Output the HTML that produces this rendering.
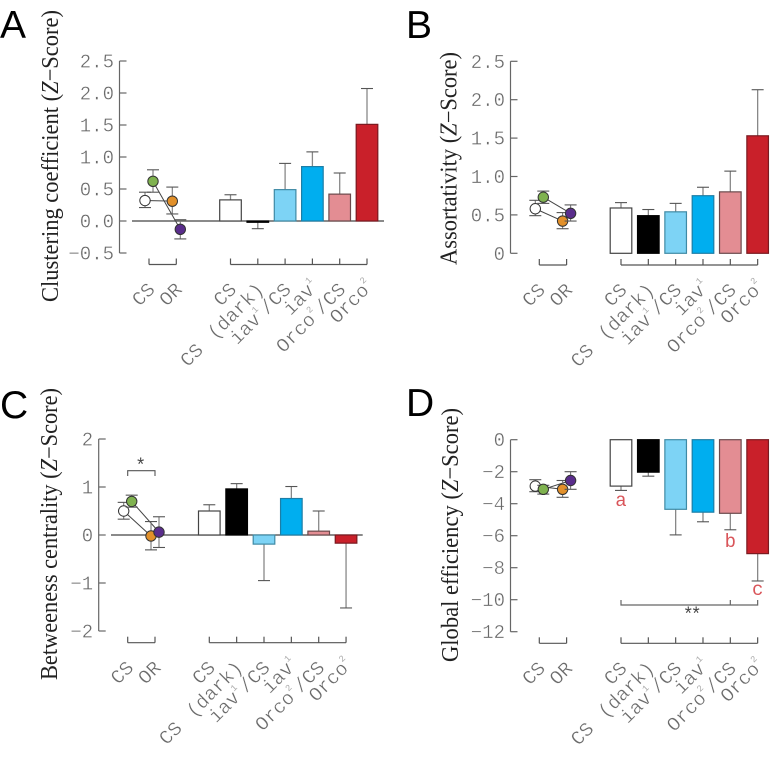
<!DOCTYPE html>
<html><head><meta charset="utf-8"><style>
html,body{margin:0;padding:0;background:#fff;width:773px;height:759px;overflow:hidden}
svg{display:block;filter:blur(0.35px)}
</style></head><body>
<svg id="fig" width="773" height="759" viewBox="0 0 773 759" xmlns="http://www.w3.org/2000/svg"></svg>
<script>
// ---- Data ----
const groupLabels = ["CS", "OR"];
const pointNames = ["cs-white", "cs-green", "or-orange", "or-purple"];
const genotypeNames = ["cs", "cs-dark", "iav-cs", "iav", "orco-cs", "orco"];

const aTicks = ["2.5", "2.0", "1.5", "1.0", "0.5", "0.0", "−0.5"];
const aTickValues = [2.5, 2.0, 1.5, 1.0, 0.5, 0, -0.5];
const aBars = [0.33, -0.02, 0.49, 0.85, 0.42, 1.51];
const aBarTips = [0.41, -0.12, 0.90, 1.08, 0.75, 2.07];
const aPoints = [0.32, 0.62, 0.31, -0.13];
const aPointHigh = [0.45, 0.80, 0.53, 0.02];
const aPointLow = [0.21, 0.45, 0.11, -0.28];

const bTicks = ["2.5", "2.0", "1.5", "1.0", "0.5", "0"];
const bTickValues = [2.5, 2.0, 1.5, 1.0, 0.5, 0];
const bBars = [0.59, 0.49, 0.54, 0.75, 0.80, 1.53];
const bBarTips = [0.66, 0.57, 0.65, 0.86, 1.07, 2.13];
const bPoints = [0.58, 0.73, 0.42, 0.52];
const bPointHigh = [0.69, 0.81, 0.53, 0.63];
const bPointLow = [0.49, 0.65, 0.32, 0.42];

const cTicks = ["2", "1", "0", "−1", "−2"];
const cTickValues = [2, 1, 0, -1, -2];
const cBars = [0.50, 0.96, -0.19, 0.76, 0.08, -0.17];
const cBarTips = [0.63, 1.07, -0.95, 1.01, 0.50, -1.52];
const cPoints = [0.50, 0.70, -0.02, 0.06];
const cPointHigh = [0.68, 0.83, 0.28, 0.38];
const cPointLow = [0.33, 0.58, -0.31, -0.26];

const dTicks = ["0", "−2", "−4", "−6", "−8", "−10", "−12"];
const dTickValues = [0, -2, -4, -6, -8, -10, -12];
const dBars = [-2.90, -2.03, -4.35, -4.53, -4.60, -7.12];
const dBarTips = [-3.17, -2.28, -5.95, -5.13, -5.63, -8.83];
const dPoints = [-2.90, -3.10, -3.10, -2.55];
const dPointHigh = [-2.50, -2.85, -2.55, -2.00];
const dPointLow = [-3.25, -3.40, -3.60, -3.10];

// ---- Styling ----
const barFill = ["#ffffff", "#000000", "#7dd3f5", "#00aeef", "#e38d93", "#c9202a"];
const barStroke = ["#444444", "#000000", "#3f8aa5", "#1d7ea6", "#6b4a4c", "#7a1a20"];
const pointFill = ["#ffffff", "#7fb24f", "#e2902a", "#5a2d8c"];
const NS = "http://www.w3.org/2000/svg";
const fig = document.getElementById("fig");

function mk(tag, attrs, parent) {
  const el = document.createElementNS(NS, tag);
  for (const k in attrs) el.setAttribute(k, attrs[k]);
  (parent || fig).appendChild(el);
  return el;
}
function line(p, x1, y1, x2, y2, stroke, w) {
  return mk("line", {x1: x1, y1: y1, x2: x2, y2: y2, stroke: stroke, "stroke-width": w || 1.2}, p);
}

function drawPanel(cfg) {
  const g = mk("g", {});
  
  
  const sy = v => cfg.yTop + (cfg.vMax - v) * (cfg.yBot - cfg.yTop) / (cfg.vMax - cfg.vMin);
  const bx = i => cfg.barStart + i * cfg.barStep;
  const gx = i => cfg.groupStart + i * cfg.groupStep;
  const px = i => gx(i < 2 ? 0 : 1) + (i % 2 === 0 ? -4 : 4);

  // panel letter
  const letter = mk("text", {x: cfg.letterX, y: cfg.letterY, "font-family": '"Liberation Sans", sans-serif', "font-size": 39, fill: "#000"}, g);
  letter.textContent = cfg.letter;
  
  

  // y axis title
  const title = mk("text", {
    transform: "translate(" + cfg.titleX + "," + cfg.titleBottom + ") rotate(-90)",
    "font-family": '"Liberation Serif", serif', "font-size": 24, fill: "#222",
    textLength: cfg.titleLen, lengthAdjust: "spacingAndGlyphs"}, g);
  
  
  title.appendChild(document.createTextNode(cfg.title + " ("));
  const z = mk("tspan", {"font-style": "italic"}, title);
  z.textContent = "Z";
  title.appendChild(document.createTextNode("−Score)"));

  // y axis
  const axis = mk("g", {}, g);
  
  
  line(axis, cfg.axisX, sy(cfg.vMax), cfg.axisX, sy(cfg.vMin), "#666", 1.2);
  cfg.tickValues.forEach((v, i) => {
    line(axis, cfg.axisX, sy(v), cfg.axisX + 7, sy(v), "#666", 1.2);
    const t = mk("text", {x: cfg.axisX - 5.5, y: sy(v) + 6.5, "text-anchor": "end",
      "font-family": '"Liberation Mono", monospace', "font-size": 19, fill: "#6a6a6a",
      stroke: "#fff", "stroke-width": 0.35}, axis);
    t.textContent = cfg.ticks[i];
    
    
  });

  // zero line
  if (cfg.zeroFrom) {
    const z0 = line(g, cfg.zeroFrom, sy(0), cfg.zeroTo, sy(0), "#444", 1.2);
    
    
  }

  // bars
  cfg.bars.forEach((v, i) => {
    const x = bx(i), tip = cfg.barTips[i];
    const err = mk("g", {}, g);
    
    
    line(err, x, sy(v), x, sy(tip), "#888", 1.3);
    line(err, x - 6, sy(tip), x + 6, sy(tip), "#555", 1.1);
    const top = Math.min(sy(v), sy(0)), h = Math.abs(sy(v) - sy(0));
    const r = mk("rect", {x: x - 10.8, y: top, width: 21.6, height: h, fill: barFill[i], stroke: barStroke[i], "stroke-width": 1.2}, g);
    
    
  });

  // connecting lines
  const conn1 = line(g, px(0), sy(cfg.points[0]), px(2), sy(cfg.points[2]), "#444", 1);
  
  
  const conn2 = line(g, px(1), sy(cfg.points[1]), px(3), sy(cfg.points[3]), "#444", 1);
  
  

  // points
  cfg.points.forEach((v, i) => {
    const x = px(i);
    const err = mk("g", {}, g);
    
    
    line(err, x, sy(cfg.pointHigh[i]), x, sy(cfg.pointLow[i]), "#777", 1.1);
    line(err, x - 6, sy(cfg.pointHigh[i]), x + 6, sy(cfg.pointHigh[i]), "#555", 1.1);
    line(err, x - 6, sy(cfg.pointLow[i]), x + 6, sy(cfg.pointLow[i]), "#555", 1.1);
    const c = mk("circle", {cx: x, cy: sy(v), r: 5.2, fill: pointFill[i], stroke: "#333", "stroke-width": 1}, g);
    
    
  });

  // brackets
  const br = mk("g", {}, g);
  
  
  line(br, gx(0), cfg.brY, gx(1), cfg.brY, "#555", 1.2);
  [0, 1].forEach(i => line(br, gx(i), cfg.brY - 6, gx(i), cfg.brY, "#555", 1.2));
  line(br, bx(0), cfg.brY, bx(5), cfg.brY, "#555", 1.2);
  genotypeNames.forEach((n, i) => line(br, bx(i), cfg.brY - 6, bx(i), cfg.brY, "#555", 1.2));

  // x labels
  const ly = cfg.brY + 26;
  function label(x, y, name, build) {
    const t = mk("text", {
      transform: "translate(" + (x + 7) + "," + y + ") rotate(-45)",
      "text-anchor": "end", "font-family": '"Liberation Mono", monospace',
      "font-size": 19.5, fill: "#6a6a6a", stroke: "#fff", "stroke-width": 0.35, "xml:space": "preserve"}, g);
    
    
    t.style.whiteSpace = "pre";
    build(t);
  }
  function sup(t, s) {
    const u = mk("tspan", {"font-size": 9, fill: "#aaa", "stroke-width": 0, dy: -10}, t);
    u.textContent = s;
  }
  function after(t, s) {
    const u = mk("tspan", {dy: 10, dx: 2}, t);
    u.textContent = s;
  }
  groupLabels.forEach((s, i) => label(gx(i), ly, 'x-label-' + s.toLowerCase(), t => { t.textContent = s; }));
  label(bx(0), ly, 'x-label-cs', t => { t.textContent = "CS"; });
  label(bx(1), ly, 'x-label-cs-dark', t => {
    t.setAttribute('word-spacing', '3.7');
    t.textContent = "CS (dark)";
  });
  label(bx(2), ly, 'x-label-iav-cs', t => {
    t.appendChild(document.createTextNode("iav"));
    sup(t, "1");
    after(t, "/CS");
  });
  label(bx(3), ly - 3, 'x-label-iav', t => {
    t.appendChild(document.createTextNode("iav"));
    sup(t, "1");
  });
  label(bx(4), ly, 'x-label-orco-cs', t => {
    t.appendChild(document.createTextNode("Orco"));
    sup(t, "2");
    after(t, "/CS");
  });
  label(bx(5), ly - 3, 'x-label-orco', t => {
    t.appendChild(document.createTextNode("Orco"));
    sup(t, "2");
  });

  if (cfg.extra) cfg.extra(g, sy, bx, gx);
}

function note(g, x, y, s, name, color, size, spacing) {
  const t = mk("text", {x: x, y: y, "text-anchor": "middle", "font-family": '"Liberation Mono", monospace', "font-size": size || 19, fill: color, "letter-spacing": spacing || 0}, g);
  t.textContent = s;
  
  
}

drawPanel({id: "clustering", letter: "A", letterX: 0, letterY: 38, title: "Clustering coefficient", titleX: 58, titleBottom: 302, titleLen: 292,
  axisX: 119.5, yTop: 61, yBot: 253, vMax: 2.5, vMin: -0.5, ticks: aTicks, tickValues: aTickValues,
  bars: aBars, barTips: aBarTips, points: aPoints, pointHigh: aPointHigh, pointLow: aPointLow,
  barStart: 230.5, barStep: 27.3, groupStart: 149, groupStep: 27.3, brY: 264.5, zeroFrom: 132, zeroTo: 384});

drawPanel({id: "assortativity", letter: "B", letterX: 406, letterY: 38, title: "Assortativity", titleX: 456.5, titleBottom: 265, titleLen: 213,
  axisX: 510.5, yTop: 61.3, yBot: 253.3, vMax: 2.5, vMin: 0, ticks: bTicks, tickValues: bTickValues,
  bars: bBars, barTips: bBarTips, points: bPoints, pointHigh: bPointHigh, pointLow: bPointLow,
  barStart: 621, barStep: 27.33, groupStart: 539.3, groupStep: 27.3, brY: 265});

drawPanel({id: "betweenness", letter: "C", letterX: 0, letterY: 418, title: "Betweeness centrality", titleX: 57, titleBottom: 680, titleLen: 292,
  axisX: 98.7, yTop: 439, yBot: 631, vMax: 2, vMin: -2, ticks: cTicks, tickValues: cTickValues,
  bars: cBars, barTips: cBarTips, points: cPoints, pointHigh: cPointHigh, pointLow: cPointLow,
  barStart: 209.3, barStep: 27.35, groupStart: 127.7, groupStep: 27.3, brY: 642.7, zeroFrom: 111, zeroTo: 362.7,
  extra: function (g, sy, bx, gx) {
    const s = mk("path", {d: "M" + gx(0) + " 476V470.7H" + gx(1) + "V476", fill: "none", stroke: "#555", "stroke-width": 1.1}, g);
    
    
    note(g, 140.7, 471, "*", "significance-star", "#444", 18);
  }});

drawPanel({id: "global-efficiency", letter: "D", letterX: 406, letterY: 416, title: "Global efficiency", titleX: 458, titleBottom: 662, titleLen: 254,
  axisX: 510.5, yTop: 439.7, yBot: 631.7, vMax: 0, vMin: -12, ticks: dTicks, tickValues: dTickValues,
  bars: dBars, barTips: dBarTips, points: dPoints, pointHigh: dPointHigh, pointLow: dPointLow,
  barStart: 621, barStep: 27.33, groupStart: 539.3, groupStep: 27.3, brY: 643.3,
  extra: function (g, sy, bx) {
    const s = mk("path", {d: "M" + bx(0) + " 600V605H" + bx(5) + "V600M" + bx(4) + " 600V605", fill: "none", stroke: "#666", "stroke-width": 1.2}, g);
    
    
    note(g, 690.7, 620, "**", "significance-stars", "#444", 18, -3);
    note(g, bx(0), 506, "a", "group-letter-a", "#d9555a");
    note(g, bx(4), 547, "b", "group-letter-b", "#d9555a");
    note(g, bx(5), 595, "c", "group-letter-c", "#d9555a");
  }});
</script>
</body></html>
